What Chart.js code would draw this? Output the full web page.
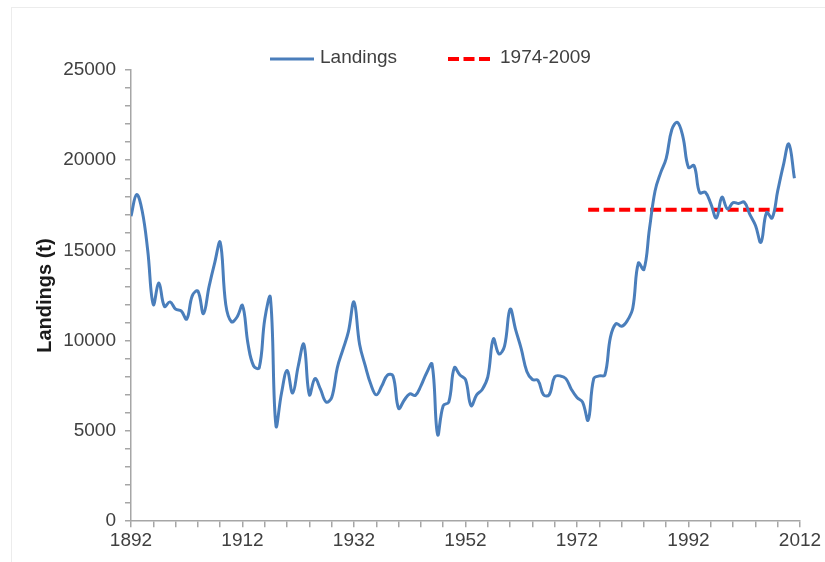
<!DOCTYPE html>
<html>
<head>
<meta charset="utf-8">
<title>Landings</title>
<script src="https://cdn.jsdelivr.net/npm/chart.js@4.4.0/dist/chart.umd.min.js"></script>
<style>
    html, body { margin: 0; padding: 0; background: #fff; }
    #wrap { position: relative; width: 825px; height: 562px; }
    #frame { position: absolute; left: 11px; top: 7px; right: -2px; bottom: -2px;
             border-left: 1px solid #ececec; border-top: 1px solid #ececec; }
    #landingsChart { position: absolute; left: 0; top: 0; }
</style>
</head>
<body>
<div id="wrap">
    <div id="frame"></div>
    <canvas id="landingsChart" width="825" height="562"></canvas>
</div>
<script>
// Data
const years = [
    1892, 1893, 1894, 1895, 1896, 1897, 1898, 1899, 1900, 1901,
    1902, 1903, 1904, 1905, 1906, 1907, 1908, 1909, 1910, 1911,
    1912, 1913, 1914, 1915, 1916, 1917, 1918, 1919, 1920, 1921,
    1922, 1923, 1924, 1925, 1926, 1927, 1928, 1929, 1930, 1931,
    1932, 1933, 1934, 1935, 1936, 1937, 1938, 1939, 1940, 1941,
    1942, 1943, 1944, 1945, 1946, 1947, 1948, 1949, 1950, 1951,
    1952, 1953, 1954, 1955, 1956, 1957, 1958, 1959, 1960, 1961,
    1962, 1963, 1964, 1965, 1966, 1967, 1968, 1969, 1970, 1971,
    1972, 1973, 1974, 1975, 1976, 1977, 1978, 1979, 1980, 1981,
    1982, 1983, 1984, 1985, 1986, 1987, 1988, 1989, 1990, 1991,
    1992, 1993, 1994, 1995, 1996, 1997, 1998, 1999, 2000, 2001,
    2002, 2003, 2004, 2005, 2006, 2007, 2008, 2009, 2010, 2011
];

const landings = [
    16900, 18100, 17200, 15000, 12000, 13200, 11900, 12150, 11750, 11650,
    11200, 12500, 12750, 11500, 13000, 14300, 15450, 12000, 11050, 11300,
    11950, 9800, 8600, 8500, 11200, 12400, 5300, 7100, 8350, 7100,
    8600, 9800, 7000, 7900, 7300, 6600, 6850, 8500, 9500, 10500,
    12150, 9800, 8630, 7600, 7000, 7500, 8100, 8050, 6250, 6700,
    7060, 6970, 7500, 8200, 8700, 4800, 6400, 6600, 8500, 8100,
    7850, 6400, 7000, 7300, 8000, 10100, 9270, 9700, 11750, 10600,
    9550, 8300, 7850, 7800, 7000, 7000, 8000, 8050, 7900, 7300,
    6850, 6600, 5600, 7900, 8050, 8100, 10200, 10950, 10800, 11100,
    11800, 14300, 13950, 16200, 18300, 19300, 20100, 21690, 22100, 21300,
    19600, 19700, 18200, 18230, 17600, 16800, 17950, 17300, 17650, 17600,
    17680, 17000, 16400, 15450, 17100, 16800, 18300, 19700, 20900, 19000
];

// 1974-2009 mean level
const periodYears = [1974, 2009];
const periodMean = [17250, 17250];

// Axis settings
const xMin = 1892, xMax = 2012, xStep = 4, xLabelEvery = 20;
const yMin = 0, yMax = 25000, yStep = 1000, yLabelEvery = 5000;

const font = "'Liberation Sans', Arial, sans-serif";
const textColor = '#404040';
const axisColor = '#a6a6a6';

// Legend drawn at fixed spots like the original
const legendPlugin = {
    id: 'fixedLegend',
    afterDraw(chart) {
        const ctx = chart.ctx;
        const spots = [
            { x1: 270, x2: 314, tx: 320 },
            { x1: 448, x2: 490, tx: 500 }
        ];
        const y = 59;
        ctx.save();
        chart.data.datasets.forEach((ds, i) => {
            const s = spots[i];
            ctx.beginPath();
            ctx.strokeStyle = ds.borderColor;
            ctx.lineWidth = ds.borderWidth;
            ctx.setLineDash(ds.borderDash || []);
            ctx.moveTo(s.x1, y);
            ctx.lineTo(s.x2, y);
            ctx.stroke();
            ctx.setLineDash([]);
            ctx.fillStyle = textColor;
            ctx.font = `19px ${font}`;
            ctx.textBaseline = 'middle';
            ctx.textAlign = 'left';
            ctx.fillText(ds.label, s.tx, y - 1);
        });
        ctx.restore();
    }
};

const ctx = document.getElementById('landingsChart').getContext('2d');
const landingsChart = new Chart(ctx, {
    type: 'line',
    data: {
        datasets: [
            {
                label: 'Landings',
                data: years.map((yr, i) => ({ x: yr, y: landings[i] })),
                borderColor: '#4a7ebb',
                borderWidth: 3,
                pointRadius: 0,
                tension: 0.4,
                fill: false
            },
            {
                label: '1974-2009',
                data: periodYears.map((yr, i) => ({ x: yr, y: periodMean[i] })),
                borderColor: '#ff0000',
                borderWidth: 4,
                borderDash: [11, 4.5],
                pointRadius: 0,
                tension: 0,
                fill: false
            }
        ]
    },
    options: {
        responsive: false,
        animation: false,
        layout: {
            padding: { left: 12, right: 25, top: 70, bottom: 8 }
        },
        plugins: {
            legend: { display: false },
            tooltip: { enabled: false }
        },
        scales: {
            x: {
                type: 'linear',
                min: xMin,
                max: xMax,
                border: { display: true, color: axisColor, width: 1.5 },
                grid: {
                    drawOnChartArea: false,
                    color: axisColor,
                    tickLength: 6,
                    lineWidth: 1.5
                },
                ticks: {
                    stepSize: xStep,
                    autoSkip: false,
                    maxRotation: 0,
                    padding: 2,
                    color: textColor,
                    font: { family: font, size: 19 },
                    callback: (v) => ((v - xMin) % xLabelEvery === 0 ? String(v) : '')
                }
            },
            y: {
                min: yMin,
                max: yMax,
                border: { display: true, color: axisColor, width: 1.5 },
                grid: {
                    drawOnChartArea: false,
                    color: axisColor,
                    tickLength: 6,
                    lineWidth: 1.5
                },
                ticks: {
                    stepSize: yStep,
                    autoSkip: false,
                    padding: 9,
                    color: textColor,
                    font: { family: font, size: 19 },
                    callback: (v) => (v % yLabelEvery === 0 ? String(v) : '')
                },
                title: {
                    display: true,
                    text: 'Landings (t)',
                    color: '#1a1a1a',
                    padding: { top: 21, bottom: 0 },
                    font: { family: font, size: 20, weight: 'bold' }
                },
                afterFit: (scale) => { scale.width = 131 - 12; }
            }
        }
    },
    plugins: [legendPlugin]
});
</script>
</body>
</html>
